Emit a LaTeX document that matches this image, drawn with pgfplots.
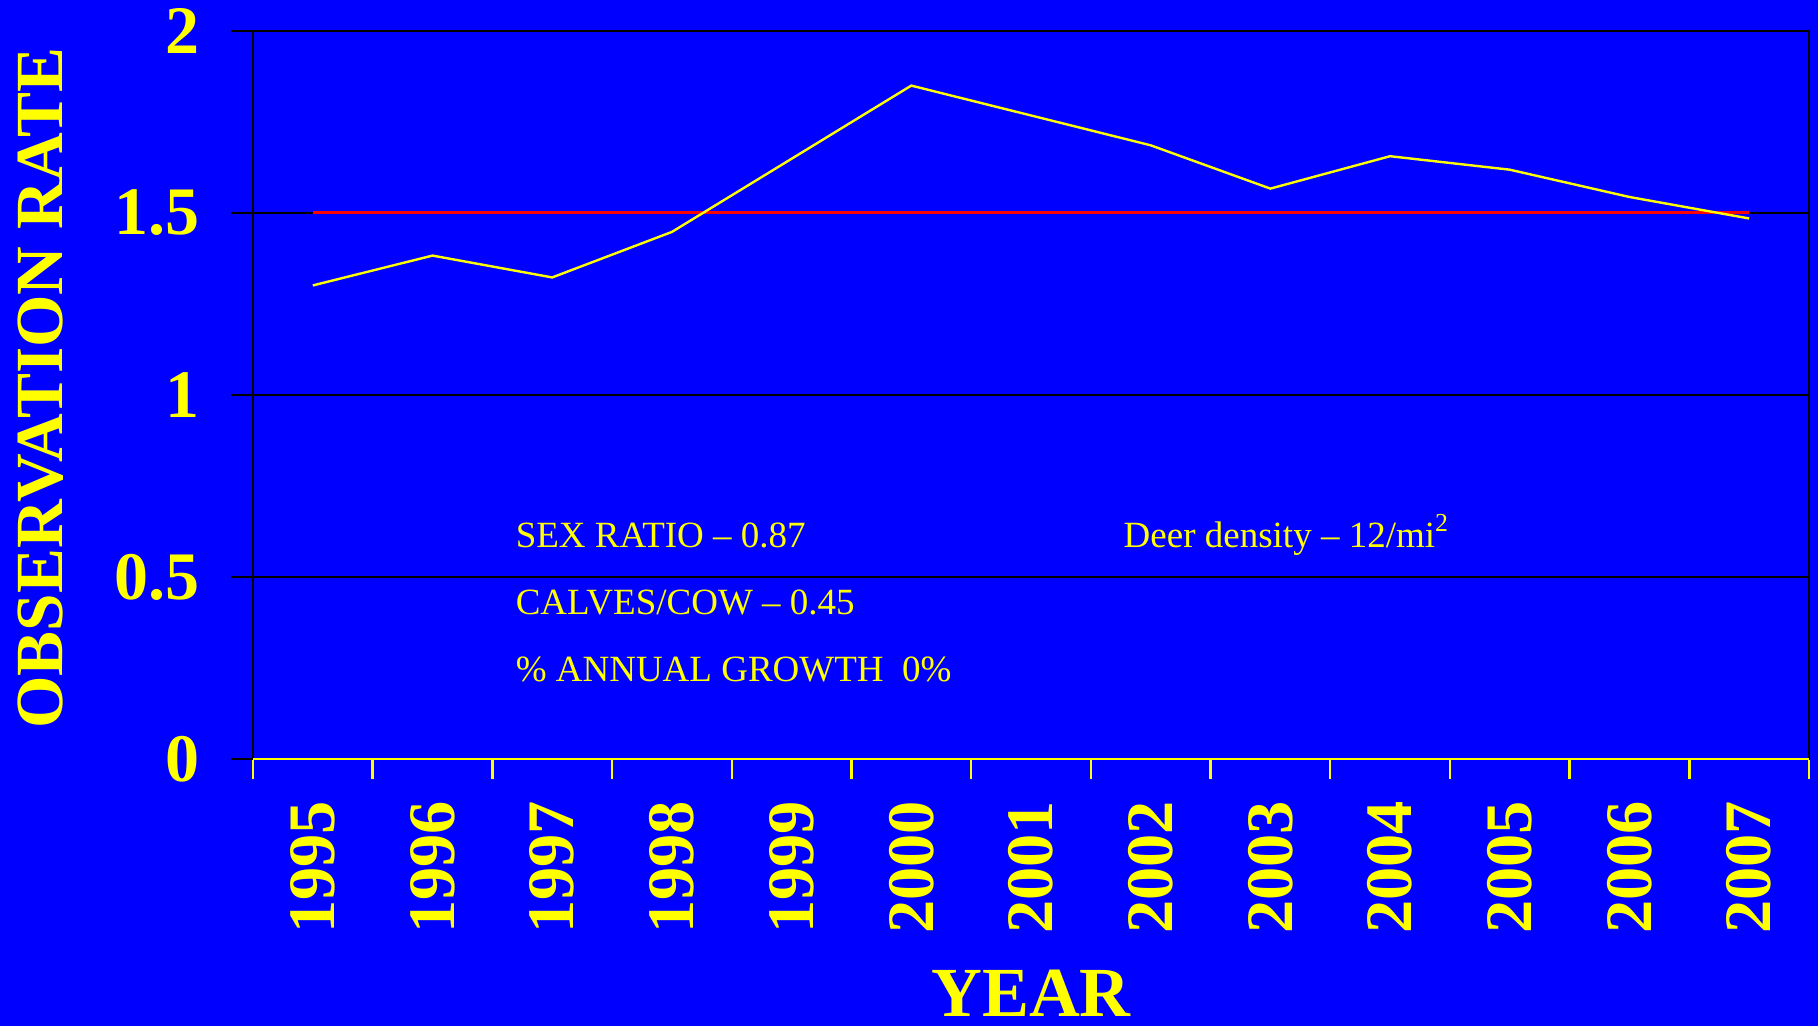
\documentclass[border=0pt]{standalone}
\usepackage{fontspec}
\setmainfont{Liberation Serif}
\usepackage{pgfplots}
\pgfplotsset{compat=1.18}
\definecolor{bgblue}{HTML}{0000FF}
\definecolor{ylw}{HTML}{FFFF00}
\definecolor{rd}{HTML}{FF0000}

\begin{document}
\begin{tikzpicture}
% slide background
\fill[bgblue] (-63.25pt,-66.75pt) rectangle (391.25pt,189.75pt);
\begin{axis}[
    at={(0,0)}, anchor=south west,
    scale only axis, width=389pt, height=182pt,
    xmin=0, xmax=13, ymin=0, ymax=2,
    xtick={0.5,1.5,2.5,3.5,4.5,5.5,6.5,7.5,8.5,9.5,10.5,11.5,12.5},
    xticklabels={1995,1996,1997,1998,1999,2000,2001,2002,2003,2004,2005,2006,2007},
    minor xtick={0,1,2,3,4,5,6,7,8,9,10,11,12,13},
    ytick={0,0.5,1,1.5,2},
    yticklabels={0,0.5,1,1.5,2},
    xtick pos=bottom, ytick pos=left,
    tick align=outside,
    major tick length=5.5pt, minor tick length=5pt,
    major x tick style={draw=none},
    minor x tick style={ylw, line width=0.6pt},
    ytick style={black, line width=0.6pt},
    ymajorgrids, grid style={black, line width=0.6pt},
    axis line style={black, line width=0.65pt},
    tick label style={text=ylw},
    /pgf/number format/assume math mode=true,
    xticklabel style={font=\fontsize{16.6}{16.6}\selectfont\bfseries,
                      yshift=-4.75pt, rotate=90, anchor=east, inner sep=0pt},
    yticklabel style={font=\fontsize{17}{17}\selectfont\bfseries,
                      anchor=east, inner sep=0pt, xshift=-7.75pt},
    clip=false,
]
% target line
\addplot[rd, line width=0.75pt] coordinates {(0.5,1.5) (12.5,1.5)};
% observation rate
\addplot[ylw, line width=0.6pt] coordinates {
    (0.5,1.301) (1.5,1.383) (2.5,1.323) (3.5,1.448) (4.5,1.649)
    (5.5,1.850) (6.5,1.768) (7.5,1.686) (8.5,1.567) (9.5,1.656)
    (10.5,1.619) (11.5,1.544) (12.5,1.485)
};
% yellow category axis
\draw[ylw, line width=0.6pt] (rel axis cs:0,0) -- (rel axis cs:1,0);

\node[anchor=base, inner sep=0pt, text=ylw, font=\fontsize{17.6}{17.6}\selectfont\bfseries,
      yshift=-64.25pt] at (rel axis cs:0.5,0) {YEAR};
\node[xshift=-47.5pt, yshift=1.75pt, rotate=90, anchor=base, inner sep=0pt, text=ylw,
      font=\fontsize{16.85}{16.85}\selectfont\bfseries] at (rel axis cs:0,0.5) {OBSERVATION RATE};

\tikzset{note/.style={anchor=base west, inner sep=0pt, text=ylw, font=\fontsize{9.25}{11}\selectfont}}
\node[note] at (axis cs:2.189,0.582) {SEX RATIO – 0.87};
\node[note] at (axis cs:7.268,0.582) {Deer density – 12/mi\textsuperscript{2}};
\node[note] at (axis cs:2.189,0.398) {CALVES/COW – 0.45};
\node[note] at (axis cs:2.189,0.214) {\% ANNUAL GROWTH\ \ 0\%};
\end{axis}
\pgfresetboundingbox
\useasboundingbox (-63.25pt,-66.75pt) rectangle (391.25pt,189.75pt);
\end{tikzpicture}
\end{document}
